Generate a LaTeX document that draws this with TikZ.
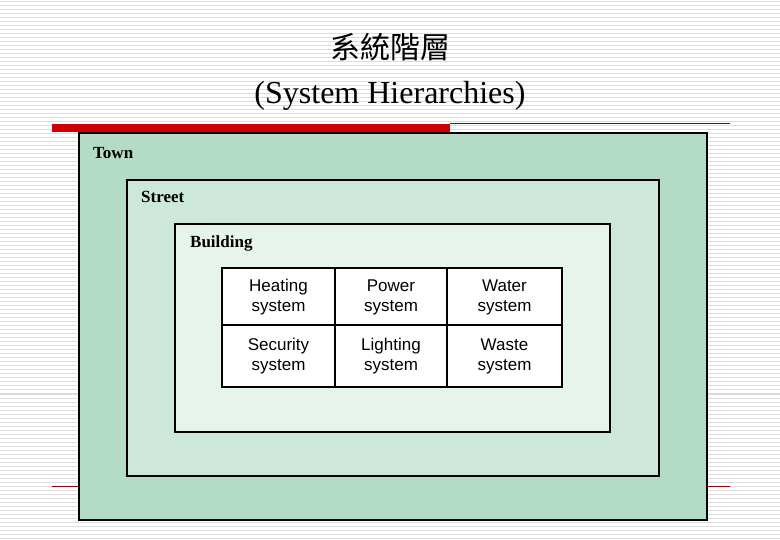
\documentclass[tikz,border=0pt]{standalone}
\usepackage{fontspec}
\setmainfont{Liberation Serif}
\newfontfamily\cjk{Noto Sans CJK TC}
\newfontfamily\cellf{Liberation Sans}
\definecolor{townc}{HTML}{B3DBC5}
\definecolor{streetc}{HTML}{CDE8DA}
\definecolor{buildc}{HTML}{E7F4EC}
\definecolor{barred}{HTML}{CC0000}
\definecolor{stripe}{HTML}{DCDCDC}
\begin{document}
\begin{tikzpicture}[x=1pt,y=-1pt,
  lvl/.style={draw=black,line width=2pt},
  lbl/.style={anchor=north west,inner sep=0pt,font=\fontsize{17}{17}\selectfont\bfseries},
  cell/.style={align=center,inner sep=0pt,font=\cellf\fontsize{17}{20}\selectfont}]
\useasboundingbox (0,0) rectangle (780,540);
\fill[white] (0,0) rectangle (780,540);
\foreach \i in {0,...,134} { \draw[stripe,line width=1pt] (0,{\i*4+2}) -- (780,{\i*4+2}); }
% title
\node (t1) at (390,47) {\cjk\fontsize{30}{30}\selectfont 系統階層};
\node (t2) at (390,96) {\fontsize{32}{32}\selectfont (System Hierarchies)};
% rules
\draw[barred!70!black,line width=0.8pt] (450,123.5) -- (730,123.5);
\draw[barred!70!black,line width=0.8pt] (52,486) -- (730,486);
\fill[barred] (52,124) rectangle (450,132);
% boxes
\draw[lvl,fill=townc] (79,133) rectangle (707,520);
\node[lbl] (town) at (93,147) {Town};
\draw[lvl,fill=streetc] (127,180) rectangle (659,476);
\node[lbl] (street) at (141,191) {Street};
\draw[lvl,fill=buildc] (175,224) rectangle (610,432);
\node[lbl] (build) at (190,236) {Building};
\draw[lvl,fill=white] (222,268) rectangle (562,387);
\draw[line width=2pt] (222,325) -- (562,325) (335,268) -- (335,387) (447,268) -- (447,387);
\node[cell] (c1) at (278.5,297) {Heating\\system};
\node[cell] (c2) at (391,297) {Power\\system};
\node[cell] (c3) at (504.5,297) {Water\\system};
\node[cell] (c4) at (278.5,356) {Security\\system};
\node[cell] (c5) at (391,356) {Lighting\\system};
\node[cell] (c6) at (504.5,356) {Waste\\system};
\end{tikzpicture}
\end{document}
